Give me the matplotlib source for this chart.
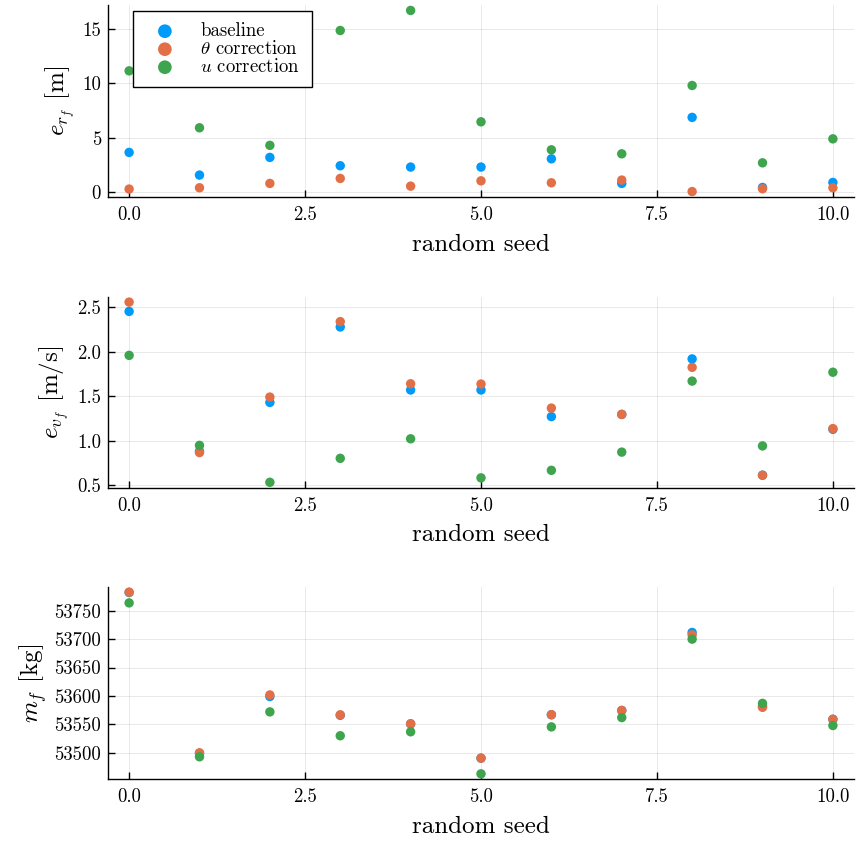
import numpy as np
import matplotlib
matplotlib.use("Agg")
import matplotlib.pyplot as plt
from matplotlib.ticker import FormatStrFormatter, MultipleLocator

plt.rcParams['font.family'] = 'serif'
plt.rcParams['font.serif'] = ['cmr10']
plt.rcParams['mathtext.fontset'] = 'cm'
plt.rcParams['axes.formatter.use_mathtext'] = True

seeds = np.arange(11)
labels = ['baseline', r'$\theta$ correction', r'$u$ correction']
colors = ['#009AFA', '#E36F47', '#3EA44E']

# final position error [m]
er_base = [3.63, 1.54, 3.17, 2.40, 2.28, 2.28, 3.04, 0.77, 6.86, 0.40, 0.86]
er_theta = [0.25, 0.37, 0.77, 1.23, 0.52, 1.01, 0.83, 1.08, 0.02, 0.28, 0.37]
er_u = [11.15, 5.90, 4.28, 14.87, 16.72, 6.45, 3.87, 3.50, 9.80, 2.67, 4.88]

# final velocity error [m/s]
ev_base = [2.455, 0.88, 1.43, 2.28, 1.57, 1.57, 1.27, 1.295, 1.92, 0.61, 1.127]
ev_theta = [2.56, 0.865, 1.49, 2.34, 1.64, 1.637, 1.366, 1.295, 1.825, 0.61, 1.135]
ev_u = [1.96, 0.946, 0.53, 0.80, 1.02, 0.58, 0.665, 0.87, 1.67, 0.94, 1.77]

# final mass [kg]
m_base = [53782.0, 53499.0, 53599.0, 53566.0, 53551.0, 53490.6, 53567.0, 53574.5, 53711.7, 53582.0, 53559.0]
m_theta = [53782.6, 53500.0, 53601.8, 53566.8, 53551.0, 53490.6, 53567.0, 53574.5, 53707.5, 53580.0, 53559.0]
m_u = [53763.7, 53493.0, 53572.0, 53530.0, 53537.0, 53463.0, 53545.6, 53562.0, 53700.0, 53587.0, 53548.0]

panels = [
    ([er_base, er_theta, er_u], r'$e_{r_f}$ [m]', MultipleLocator(5)),
    ([ev_base, ev_theta, ev_u], r'$e_{v_f}$ [m/s]', MultipleLocator(0.5)),
    ([m_base, m_theta, m_u], r'$m_f$ [kg]', MultipleLocator(50)),
]

W, H = 856, 841
fig = plt.figure(figsize=(W / 100, H / 100), dpi=100)
boxes = [(5, 197), (296.7, 487.7), (586.7, 779.3)]  # top, bottom in px

for i, (series, ylab, yloc) in enumerate(panels):
    top, bot = boxes[i]
    ax = fig.add_axes([108 / W, 1 - bot / H, (854 - 108) / W, (bot - top) / H])
    for s, lab, c in zip(series, labels, colors):
        ax.scatter(seeds, s, s=46, color=c, edgecolors='none', label=lab, zorder=3)
    allv = np.concatenate([np.asarray(s) for s in series])
    lo, hi = allv.min(), allv.max()
    pad = 0.03 * (hi - lo)
    ax.set_ylim(lo - pad, hi + pad)
    ax.set_xlim(-0.3, 10.3)
    ax.xaxis.set_major_locator(MultipleLocator(2.5))
    ax.xaxis.set_major_formatter(FormatStrFormatter('%.1f'))
    ax.yaxis.set_major_locator(yloc)
    if i == 1:
        ax.yaxis.set_major_formatter(FormatStrFormatter('%.1f'))
    else:
        ax.yaxis.set_major_formatter(FormatStrFormatter('%d'))
    ax.grid(True, color='black', alpha=0.1, linewidth=0.6)
    ax.set_axisbelow(True)
    for sp in ['top', 'right']:
        ax.spines[sp].set_visible(False)
    ax.spines['left'].set_linewidth(1.0)
    ax.spines['bottom'].set_linewidth(1.0)
    ax.tick_params(direction='in', length=5, width=1, labelsize=13.5)
    ax.tick_params(axis='x', pad=6.5)
    ax.tick_params(axis='y', pad=5)
    ax.set_xlabel('random seed', fontsize=18, labelpad=7)
    ax.set_ylabel(ylab, fontsize=18, labelpad=4)
    if i == 0:
        leg = ax.legend(loc='upper left', bbox_to_anchor=(0.0335, 0.969), fontsize=13.5,
                        markerscale=1.45, frameon=True, fancybox=False, framealpha=1,
                        edgecolor='black', handletextpad=0.8, labelspacing=0.0,
                        borderpad=0.6, handlelength=2.2, borderaxespad=0)
        leg.get_frame().set_linewidth(1.0)

fig.savefig('out.png', dpi=100)
